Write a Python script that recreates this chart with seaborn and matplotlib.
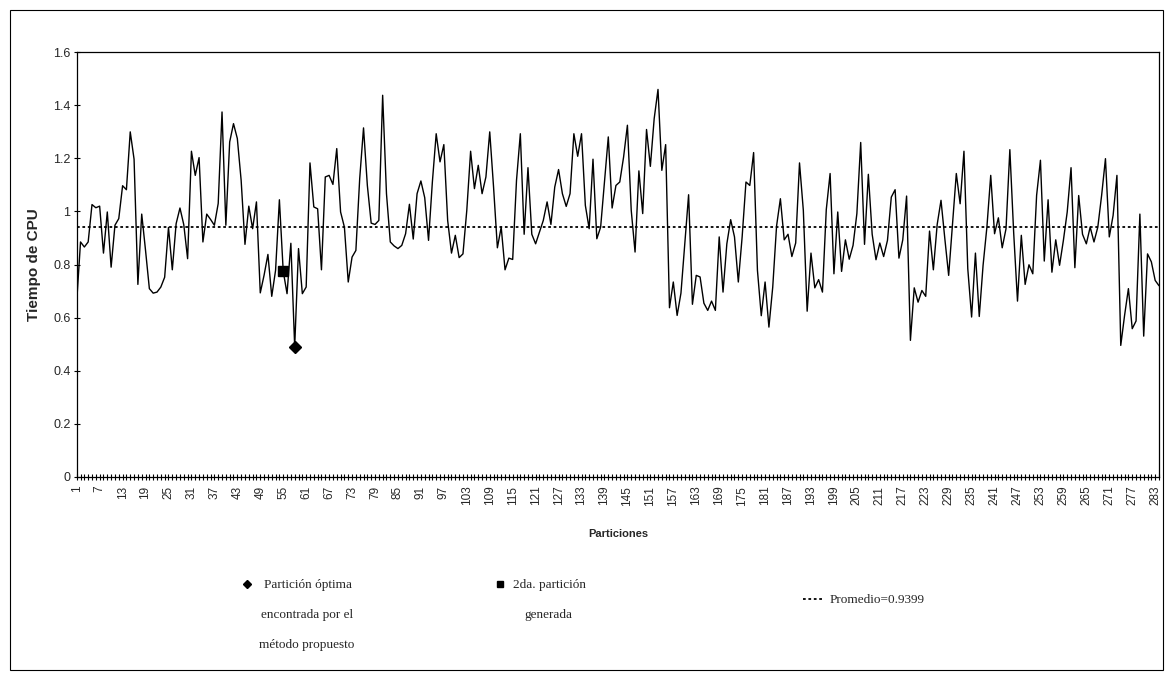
import numpy as np
import pandas as pd
import matplotlib
matplotlib.use("Agg")
import matplotlib.pyplot as plt
from matplotlib.lines import Line2D
from matplotlib.patches import Rectangle
import seaborn as sns

# ---------------- data ----------------
tiempos = [
    0.66, 0.885, 0.866, 0.885, 1.026, 1.014, 1.02, 0.843, 0.998, 0.79,
    0.948, 0.973, 1.097, 1.082, 1.30, 1.197, 0.725, 0.99, 0.853, 0.709,
    0.692, 0.696, 0.715, 0.752, 0.94, 0.78, 0.954, 1.013, 0.95, 0.822,
    1.227, 1.136, 1.203, 0.885, 0.99, 0.97, 0.948, 1.03, 1.375, 0.948,
    1.262, 1.331, 1.275, 1.117, 0.876, 1.02, 0.935, 1.036, 0.693, 0.76,
    0.838, 0.68, 0.778, 1.044, 0.775, 0.69, 0.88, 0.49, 0.86, 0.69,
    0.715, 1.183, 1.017, 1.01, 0.78, 1.13, 1.136, 1.102, 1.237, 0.998,
    0.941, 0.734, 0.828, 0.853, 1.124, 1.315, 1.098, 0.956, 0.951, 0.966,
    1.438, 1.067, 0.885, 0.87, 0.86, 0.872, 0.916, 1.027, 0.896, 1.067,
    1.115, 1.052, 0.891, 1.111, 1.293, 1.187, 1.252, 0.966, 0.843, 0.91,
    0.826, 0.84, 1.004, 1.227, 1.086, 1.174, 1.067, 1.13, 1.30, 1.092,
    0.863, 0.941, 0.78, 0.824, 0.819, 1.117, 1.293, 0.914, 1.165, 0.914,
    0.878, 0.922, 0.966, 1.036, 0.951, 1.092, 1.158, 1.067, 1.019, 1.067,
    1.293, 1.208, 1.293, 1.023, 0.935, 1.197, 0.897, 0.941, 1.111, 1.281,
    1.013, 1.098, 1.111, 1.205, 1.325, 1.004, 0.847, 1.153, 0.992, 1.309,
    1.17, 1.35, 1.46, 1.155, 1.252, 0.637, 0.734, 0.608, 0.692, 0.878,
    1.063, 0.65, 0.759, 0.753, 0.654, 0.627, 0.662, 0.627, 0.904, 0.696,
    0.878, 0.969, 0.904, 0.734, 0.904, 1.111, 1.098, 1.222, 0.778, 0.607,
    0.734, 0.564, 0.715, 0.945, 1.048, 0.893, 0.914, 0.83, 0.881, 1.183,
    1.004, 0.624, 0.843, 0.712, 0.743, 0.696, 1.007, 1.143, 0.765, 0.998,
    0.774, 0.893, 0.82, 0.872, 0.992, 1.26, 0.876, 1.14, 0.914, 0.818,
    0.881, 0.83, 0.891, 1.054, 1.082, 0.824, 0.893, 1.058, 0.514, 0.712,
    0.658, 0.702, 0.68, 0.926, 0.78, 0.951, 1.042, 0.897, 0.759, 0.951,
    1.143, 1.029, 1.227, 0.784, 0.602, 0.843, 0.604, 0.797, 0.941, 1.136,
    0.916, 0.976, 0.863, 0.935, 1.233, 0.92, 0.662, 0.91, 0.725, 0.799,
    0.765, 1.061, 1.193, 0.813, 1.044, 0.771, 0.893, 0.797, 0.891, 0.998,
    1.165, 0.788, 1.06, 0.914, 0.878, 0.941, 0.885, 0.941, 1.061, 1.199,
    0.904, 0.985, 1.136, 0.495, 0.608, 0.709, 0.558, 0.587, 0.99, 0.53,
    0.84, 0.81, 0.74, 0.72,
]
particiones = list(range(1, len(tiempos) + 1))
promedio = 0.9399
optima_idx = 58          # partición óptima
segunda_idx = 55         # 2da. partición generada
y_ticks = [0, 0.2, 0.4, 0.6, 0.8, 1.0, 1.2, 1.4, 1.6]
y_ticklabels = ["0", "0.2", "0.4", "0.6", "0.8", "1", "1.2", "1.4", "1.6"]
x_ticks = list(range(1, len(tiempos) + 1, 6))

df = pd.DataFrame({"Particiones": particiones, "Tiempo": tiempos})

# ---------------- style ----------------
sns.set_theme(style="white")
plt.rcParams["font.family"] = ["Liberation Sans", "DejaVu Sans"]

W, H = 1173, 680
fig = plt.figure(figsize=(W / 100, H / 100), dpi=100)
fig.patch.set_facecolor("white")

ax_l, ax_r, ax_t, ax_b = 76.7, 1159.0, 52.3, 476.7
ax = fig.add_axes([ax_l / W, 1 - ax_b / H, (ax_r - ax_l) / W, (ax_b - ax_t) / H])

sns.lineplot(data=df, x="Particiones", y="Tiempo", ax=ax, color="black",
             linewidth=1.0, legend=False)
ax.axhline(promedio, color="black", linewidth=1.3, linestyle=(0, (1.5, 1.5)))

ax.plot([optima_idx], [tiempos[optima_idx - 1]], marker="D", color="black",
        markersize=6, linestyle="none", zorder=5)
ax.plot([segunda_idx], [tiempos[segunda_idx - 1]], marker="s", color="black",
        markersize=6.5, linestyle="none", zorder=5)

ax.set_xlim(1, len(tiempos))
ax.set_ylim(0, 1.6)
ax.set_yticks(y_ticks)
ax.set_yticklabels(y_ticklabels, fontsize=9)
ax.set_xticks(x_ticks)
ax.set_xticklabels([str(v) for v in x_ticks], rotation=90, fontsize=8.5)
ax.set_xticks(particiones, minor=True)
ax.tick_params(axis="both", which="both", direction="inout", length=5,
               width=0.8, color="black", bottom=True, left=True)
ax.tick_params(axis="x", which="major", pad=4)
ax.tick_params(axis="y", which="major", pad=2)

for s in ax.spines.values():
    s.set_visible(True)
    s.set_color("black")
    s.set_linewidth(0.9)

ax.set_xlabel("Particiones", fontsize=8, fontweight="bold", labelpad=17)
ax.set_ylabel("Tiempo de CPU", fontsize=11, fontweight="bold", labelpad=9)
ax.grid(False)

# ---------------- legend ----------------
leg_font = {"family": ["Liberation Serif", "DejaVu Serif"], "size": 9.5}

def add_entry(handle, label, x_px, y_px, hl, pad):
    lg = fig.legend(handles=[handle], labels=[label], loc="center left",
                    bbox_to_anchor=(x_px / W, 1 - y_px / H), frameon=False,
                    borderpad=0, borderaxespad=0, handlelength=hl,
                    handletextpad=pad, prop=leg_font)
    return lg

add_entry(Line2D([], [], marker="D", color="black", linestyle="none", markersize=4.5),
          "Partición óptima", 240.5, 585, 1.0, 0.75)
fig.text(307 / W, 1 - 615 / H, "encontrada por el", ha="center", va="center",
         fontdict=leg_font)
fig.text(307 / W, 1 - 645 / H, "método propuesto", ha="center", va="center",
         fontdict=leg_font)

add_entry(Line2D([], [], marker="s", color="black", linestyle="none", markersize=5),
          "2da. partición", 493.5, 585, 1.0, 0.45)
fig.text(548 / W, 1 - 615 / H, "generada", ha="center", va="center",
         fontdict=leg_font)

add_entry(Line2D([], [], color="black", linewidth=1.3, linestyle=(0, (1.5, 1.5))),
          "Promedio=0.9399", 803, 600, 1.5, 0.5)

# chart area border
fig.patches.append(Rectangle((10 / W, 10 / H), (W - 20) / W, (H - 20) / H,
                             transform=fig.transFigure, fill=False,
                             edgecolor="black", linewidth=0.8))

fig.savefig("out.png", dpi=100, facecolor="white")
